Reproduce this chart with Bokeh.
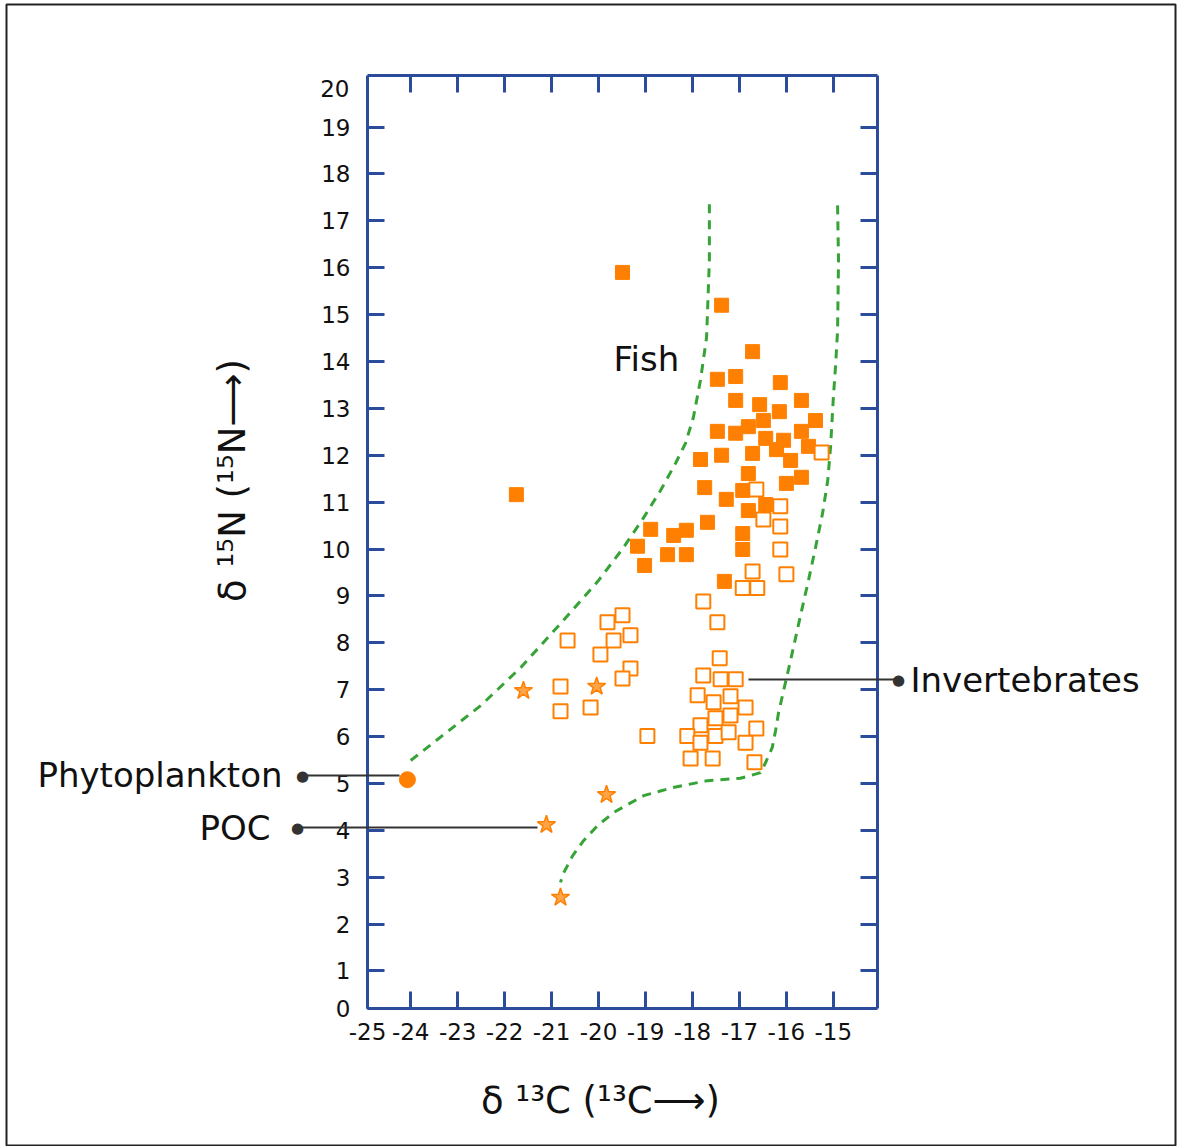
import math
from bokeh.plotting import figure
from bokeh.models import LinearAxis, FixedTicker, Label, Arrow, Range1d
from bokeh.embed import file_html
from bokeh.resources import INLINE

# ---------------- data ----------------
fish_x = [-19.49, -17.38, -21.75, -16.72, -17.47, -17.08, -16.13, -17.08, -16.57, -15.68,
          -16.15, -16.49, -16.81, -15.38, -17.47, -17.08, -16.44, -16.06, -15.68, -16.21,
          -15.53, -17.83, -17.38, -16.72, -15.91, -16.81, -16.00, -15.68, -17.74, -16.93,
          -17.28, -16.44, -16.81, -17.68, -18.89, -18.13, -18.40, -16.93, -19.17, -16.93,
          -18.53, -18.13, -19.02, -17.32]
fish_y = [15.90, 15.20, 11.16, 14.21, 13.62, 13.68, 13.55, 13.17, 13.08, 13.17,
          12.93, 12.74, 12.61, 12.74, 12.51, 12.47, 12.36, 12.32, 12.51, 12.12,
          12.19, 11.91, 12.00, 12.04, 11.89, 11.61, 11.40, 11.53, 11.31, 11.25,
          11.06, 10.95, 10.82, 10.57, 10.42, 10.40, 10.29, 10.33, 10.06, 9.99,
          9.88, 9.88, 9.65, 9.31]

inv_x = [-15.25, -16.64, -16.13, -16.49, -16.13, -16.13, -16.72, -16.00, -16.93, -16.62,
         -17.77, -17.47, -19.81, -19.49, -20.66, -19.68, -19.32, -19.96, -19.32, -19.49,
         -20.81, -20.81, -20.17, -18.96, -17.42, -17.77, -17.40, -17.08, -17.89, -17.55,
         -17.19, -16.87, -17.51, -17.19, -17.83, -18.11, -17.51, -17.23, -16.64, -17.83,
         -16.87, -18.04, -17.57, -16.68]
inv_y = [12.06, 11.27, 10.91, 10.63, 10.48, 9.99, 9.52, 9.46, 9.17, 9.17,
         8.88, 8.44, 8.44, 8.59, 8.05, 8.05, 8.16, 7.75, 7.45, 7.24,
         7.07, 6.54, 6.62, 6.01, 7.67, 7.30, 7.22, 7.22, 6.88, 6.73,
         6.86, 6.62, 6.39, 6.45, 6.24, 6.01, 6.01, 6.09, 6.17, 5.87,
         5.87, 5.53, 5.53, 5.45]

poc_x = [-21.60, -20.04, -19.83, -21.11, -20.81]
poc_y = [6.98, 7.07, 4.76, 4.12, 2.57]

phyto_x = [-24.07]
phyto_y = [5.08]

# dashed boundary curves
left_bx = [-24.00, -22.51, -21.66, -20.81, -20.00, -19.47, -19.04, -18.68, -18.36,
           -18.15, -17.98, -17.83, -17.70, -17.64, -17.64]
left_by = [5.49, 6.66, 7.47, 8.41, 9.33, 10.03, 10.67, 11.25, 11.83,
           12.25, 12.81, 13.60, 14.51, 16.16, 17.48]
right_bx = [-14.91, -14.89, -14.91, -14.95, -15.00, -15.06, -15.12, -15.23, -15.38,
            -15.53, -15.70, -15.85, -15.96, -16.06, -16.17, -16.23, -16.30, -16.45,
            -16.55, -16.98, -17.68, -18.43, -19.04, -19.68, -20.02, -20.32, -20.55,
            -20.75, -20.81]
right_by = [17.33, 16.16, 14.66, 13.96, 13.23, 12.17, 11.46, 10.76, 10.03,
            9.33, 8.58, 7.90, 7.41, 6.98, 6.49, 6.13, 5.77, 5.43,
            5.23, 5.11, 5.06, 4.91, 4.74, 4.38, 4.10, 3.78, 3.46,
            3.08, 2.89]

x_ticks = [-24, -23, -22, -21, -20, -19, -18, -17, -16, -15]
x_tick_labels = ["-24", "-23", "-22", "-21", "-20", "-19", "-18", "-17", "-16", "-15"]
y_ticks = list(range(1, 20))

# ---------------- layout ----------------
W, H = 1180, 1146
BL, BR, BT, BB = 6, 5, 4, 0          # canvas border (frame = whole canvas)
X0, X1 = -24.92, -14.06              # data extent of the boxed plot area
Y0, Y1 = 0.2, 20.1
FL, FR, FT, FB = 367, 877, 75, 1008  # boxed plot area in page pixels
KX = (FR - FL) / (X1 - X0)
KY = (FB - FT) / (Y1 - Y0)

def dx(px):
    return X0 + (px - FL) / KX

def dy(py):
    return Y0 + (FB - py) / KY

BLUE = "#2b4c9b"
ORANGE = "#ff8000"
GREEN = "#36a336"
FONT = "DejaVu Sans"
INK = "#111111"

p = figure(width=W, height=H, output_backend="svg", toolbar_location=None,
           x_range=Range1d(dx(BL), dx(W - BR)), y_range=Range1d(dy(H - BB), dy(BT)),
           x_axis_location=None, y_axis_location=None,
           min_border_left=BL, min_border_right=BR,
           min_border_top=BT, min_border_bottom=BB,
           background_fill_color="white", border_fill_color="white")
p.grid.visible = False
p.outline_line_color = "#222222"
p.outline_line_width = 2

xlab = {X0: "-25"}
xlab.update({t: s for t, s in zip(x_ticks, x_tick_labels)})

left = LinearAxis(fixed_location=X0, bounds=(Y0, Y1), ticker=FixedTicker(ticks=[Y0] + y_ticks),
                  major_label_overrides={Y0: "0"}, major_label_standoff=17)
right = LinearAxis(fixed_location=X1, bounds=(Y0, Y1), ticker=FixedTicker(ticks=y_ticks))
bottom = LinearAxis(fixed_location=Y0, bounds=(X0, X1), ticker=FixedTicker(ticks=[X0] + x_ticks),
                    major_label_overrides=xlab, major_label_standoff=14)
top = LinearAxis(fixed_location=Y1, bounds=(X0, X1), ticker=FixedTicker(ticks=x_ticks))
p.add_layout(left, "left")
p.add_layout(right, "right")
p.add_layout(bottom, "below")
p.add_layout(top, "above")

for ax in [left, right, bottom, top]:
    ax.axis_line_color = BLUE
    ax.axis_line_width = 3
    ax.major_tick_line_color = BLUE
    ax.major_tick_line_width = 3
    ax.major_tick_in = 17
    ax.major_tick_out = 0
    ax.minor_tick_line_color = None
    ax.major_label_text_font = FONT
    ax.major_label_text_font_size = "23px"
    ax.major_label_text_color = INK
for ax in [right, top]:
    ax.major_label_text_color = None

# "20" label at the top of the y scale
p.add_layout(Label(x=dx(349), y=dy(88), text="20", text_align="right",
                   text_baseline="middle", text_font=FONT, text_font_size="23px",
                   text_color=INK))

# ---------------- glyphs ----------------
p.line(left_bx, left_by, line_color=GREEN, line_width=3, line_dash="9 7")
p.line(right_bx, right_by, line_color=GREEN, line_width=3, line_dash="9 7")

p.scatter(fish_x, fish_y, marker="square", size=14, fill_color=ORANGE,
          line_color=ORANGE, line_width=1)
p.scatter(inv_x, inv_y, marker="square", size=14, fill_color="white",
          line_color=ORANGE, line_width=2)
p.scatter(poc_x, poc_y, marker="star", size=19, fill_color="#ffa447",
          line_color=ORANGE, line_width=1.5)
p.scatter(phyto_x, phyto_y, marker="circle", size=16, fill_color=ORANGE,
          line_color=ORANGE)

# ---------------- annotations ----------------
LEAD = "#333333"
for (x1, x2, py) in [(302, 399, 775), (297, 537, 827), (748, 897, 679)]:
    p.add_layout(Arrow(end=None, x_start=dx(x1), y_start=dy(py), x_end=dx(x2), y_end=dy(py),
                       line_color=LEAD, line_width=2))
for (px, py) in [(302, 775), (297, 827), (898, 679)]:
    p.add_layout(Label(x=dx(px), y=dy(py), text="●", text_align="center",
                       text_baseline="middle", text_font=FONT, text_font_size="15px",
                       text_color=LEAD))

def txt(t, px, py, align, size="34px", angle=0):
    p.add_layout(Label(x=dx(px), y=dy(py), text=t, text_align=align,
                       text_baseline="middle", text_font=FONT, text_font_size=size,
                       text_color=INK, angle=angle))

txt("Fish", 613, 358, "left")
txt("Invertebrates", 910, 679, "left")
txt("Phytoplankton", 282, 774, "right")
txt("POC", 270, 827, "right")
txt("δ ¹³C (¹³C⟶)", 600, 1100, "center", size="37px")
txt("δ ¹⁵N (¹⁵N⟶)", 232, 480, "center", size="37px", angle=math.pi / 2)

open("out.html", "w").write(file_html(p, INLINE))
